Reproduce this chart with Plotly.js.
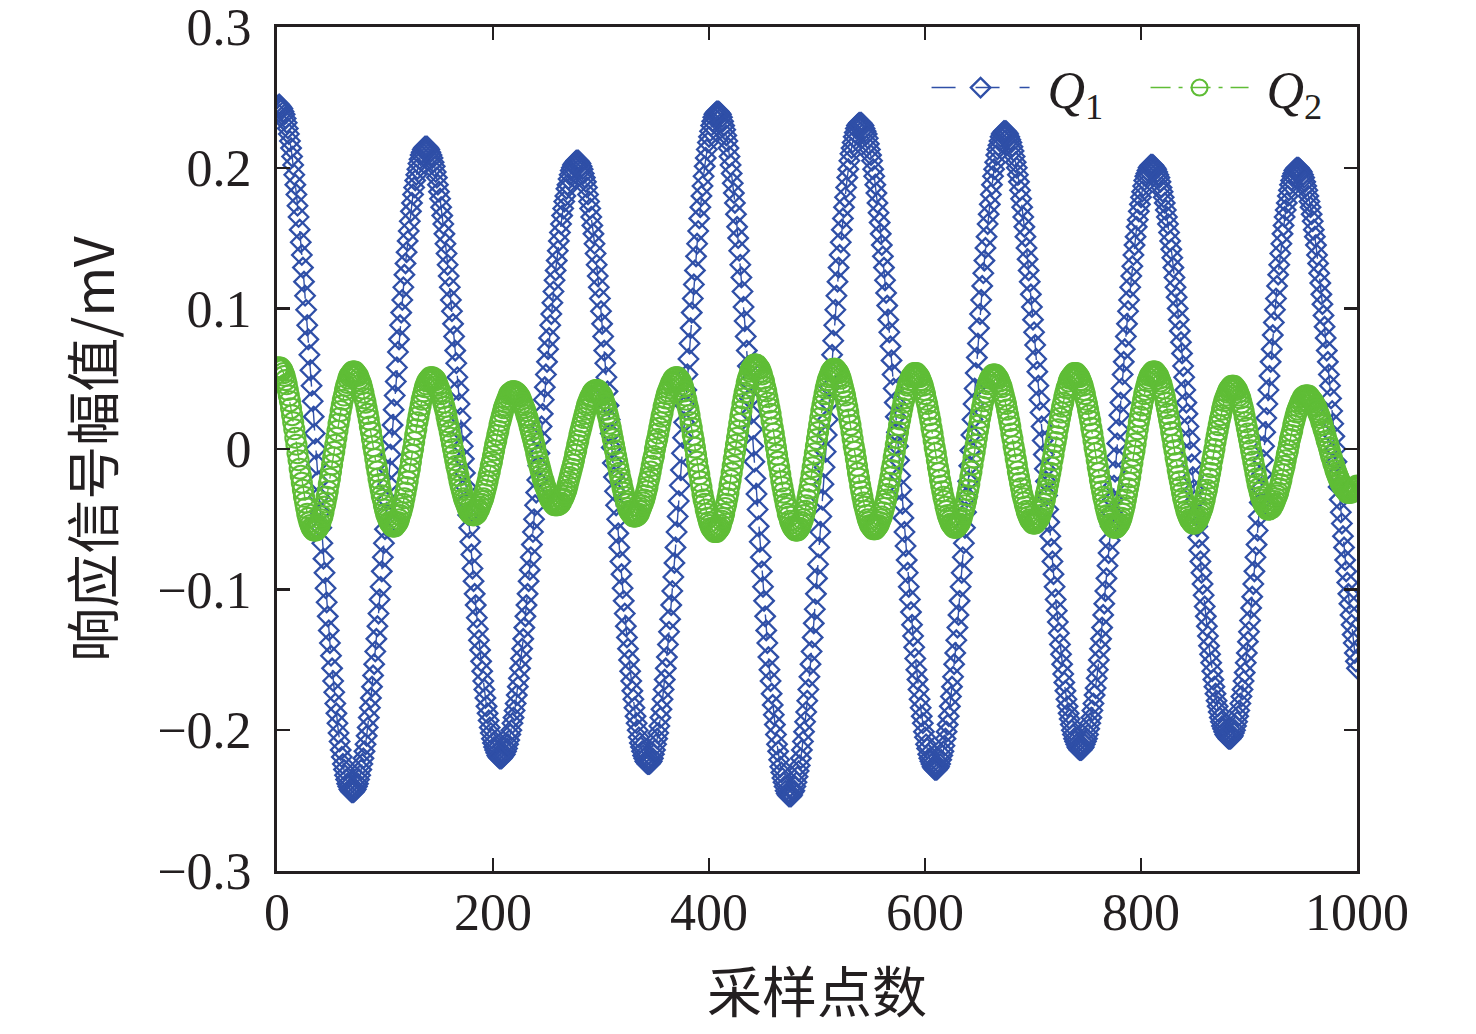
<!DOCTYPE html>
<html>
<head>
<meta charset="utf-8">
<script src="https://cdn.plot.ly/plotly-3.0.1.min.js"></script>
<style>
  html, body { margin: 0; padding: 0; background: #ffffff; }
  #chart { width: 1476px; height: 1034px; }
</style>
</head>
<body>
<div id="chart"></div>
<script>
// Q1 response amplitude (mV) at even samples 0,2,...,1000
const q1AtEvenSamples = [
  .244,.245,.243,.240,.235,.228,.219,.208,.195,.181,.165,.147,.129,.109,.088,.067,.045,.023,.000,-.023,-.045,-.067,-.088,-.109,-.129,-.147,-.165,-.181,-.195,-.208,-.219,-.228,-.235,-.240,-.243,-.244,
  -.243,-.240,-.235,-.228,-.220,-.210,-.198,-.184,-.169,-.153,-.135,-.117,-.098,-.077,-.057,-.036,-.015,.007,.028,.048,.069,.088,.106,.124,.140,.155,.169,.181,.191,.199,.206,.211,.214,.215,
  .214,.211,.207,.201,.193,.183,.172,.160,.146,.131,.115,.098,.080,.061,.042,.022,.002,-.017,-.037,-.056,-.075,-.094,-.111,-.128,-.143,-.158,-.171,-.183,-.193,-.202,-.209,-.214,-.218,-.220,
  -.220,-.218,-.215,-.210,-.203,-.195,-.186,-.175,-.163,-.149,-.135,-.119,-.103,-.086,-.068,-.050,-.031,-.012,.007,.025,.044,.062,.079,.096,.112,.127,.141,.154,.166,.176,.185,.192,.198,.202,.204,.205,
  .204,.201,.196,.190,.181,.171,.159,.146,.131,.115,.098,.080,.061,.041,.021,.001,-.020,-.040,-.060,-.080,-.099,-.117,-.134,-.150,-.165,-.178,-.190,-.200,-.209,-.215,-.220,-.223,-.224,
  -.223,-.220,-.214,-.206,-.197,-.185,-.171,-.156,-.139,-.121,-.101,-.081,-.059,-.037,-.015,.008,.031,.053,.075,.097,.117,.137,.155,.172,.187,.201,.213,.222,.230,.236,.239,.240,
  .239,.236,.230,.223,.214,.202,.189,.175,.158,.141,.122,.101,.080,.059,.036,.014,-.009,-.032,-.055,-.077,-.098,-.119,-.138,-.157,-.174,-.189,-.203,-.215,-.226,-.234,-.240,-.245,-.247,
  -.247,-.244,-.240,-.233,-.225,-.214,-.201,-.187,-.171,-.153,-.134,-.114,-.092,-.070,-.048,-.025,-.002,.021,.044,.067,.088,.109,.129,.147,.164,.179,.193,.205,.214,.222,.228,.231,.232,
  .231,.228,.224,.217,.209,.199,.188,.175,.161,.145,.129,.111,.092,.073,.053,.033,.012,-.008,-.029,-.049,-.069,-.088,-.107,-.125,-.141,-.157,-.171,-.184,-.195,-.205,-.213,-.220,-.224,-.227,-.228,
  -.227,-.224,-.218,-.211,-.201,-.190,-.176,-.162,-.145,-.127,-.108,-.088,-.067,-.045,-.023,-.001,.021,.043,.065,.086,.106,.125,.143,.160,.174,.188,.199,.209,.216,.222,.225,.226,
  .225,.222,.218,.212,.204,.195,.184,.172,.158,.143,.127,.110,.092,.074,.055,.035,.016,-.004,-.023,-.043,-.062,-.080,-.098,-.115,-.131,-.146,-.160,-.172,-.183,-.192,-.200,-.206,-.210,-.213,-.214,
  -.213,-.210,-.206,-.199,-.191,-.181,-.170,-.157,-.142,-.127,-.110,-.092,-.074,-.055,-.036,-.016,.004,.024,.043,.062,.080,.098,.115,.130,.145,.158,.169,.179,.187,.194,.198,.201,.202,
  .201,.199,.195,.190,.183,.175,.165,.154,.142,.129,.115,.100,.084,.068,.051,.033,.016,-.002,-.020,-.037,-.055,-.072,-.088,-.104,-.119,-.133,-.146,-.158,-.169,-.179,-.187,-.194,-.199,-.203,-.205,-.206,
  -.205,-.202,-.197,-.190,-.181,-.171,-.159,-.145,-.130,-.113,-.096,-.077,-.058,-.038,-.018,.002,.022,.042,.062,.081,.099,.116,.131,.146,.159,.170,.180,.188,.194,.198,.200,
  .200,.198,.195,.190,.184,.176,.167,.156,.145,.132,.118,.103,.087,.070,.053,.036,.018,.000,-.018,-.036,-.053,-.070,-.087,-.103,-.118,-.132,-.145,-.156
];

// Q1 response amplitude (mV) at odd samples 1,3,...,999
const q1AtOddSamples = [
  .244,.244,.242,.238,.232,.224,.214,.202,.188,.173,.156,.138,.119,.099,.078,.056,.034,.011,-.011,-.034,-.056,-.078,-.099,-.119,-.138,-.156,-.173,-.188,-.202,-.214,-.224,-.232,-.238,-.242,-.244,
  -.244,-.242,-.238,-.232,-.224,-.215,-.204,-.191,-.177,-.161,-.144,-.126,-.107,-.087,-.067,-.046,-.025,-.004,.017,.038,.058,.078,.097,.115,.132,.148,.162,.175,.186,.195,.203,.209,.213,.215,
  .215,.213,.209,.204,.197,.188,.178,.166,.153,.139,.123,.106,.089,.070,.051,.032,.012,-.007,-.027,-.047,-.066,-.085,-.103,-.120,-.136,-.151,-.165,-.177,-.188,-.198,-.206,-.212,-.216,-.219,
  -.220,-.219,-.217,-.213,-.207,-.200,-.191,-.181,-.169,-.156,-.142,-.127,-.111,-.094,-.077,-.059,-.040,-.022,-.003,.016,.035,.053,.071,.088,.104,.120,.134,.148,.160,.171,.180,.188,.195,.200,.203,.205,
  .205,.203,.199,.193,.186,.176,.165,.153,.139,.123,.107,.089,.070,.051,.031,.011,-.010,-.030,-.050,-.070,-.089,-.108,-.126,-.142,-.158,-.172,-.184,-.195,-.205,-.212,-.218,-.222,-.224,
  -.224,-.222,-.217,-.210,-.202,-.191,-.178,-.164,-.148,-.130,-.111,-.091,-.070,-.048,-.026,-.003,.019,.042,.064,.086,.107,.127,.146,.164,.180,.194,.207,.218,.226,.233,.238,.240,
  .240,.238,.233,.227,.219,.208,.196,.182,.167,.150,.131,.112,.091,.070,.048,.025,.002,-.021,-.043,-.066,-.087,-.108,-.129,-.148,-.165,-.182,-.196,-.210,-.221,-.230,-.237,-.243,-.246,-.247,
  -.246,-.243,-.237,-.229,-.220,-.208,-.194,-.179,-.162,-.144,-.124,-.103,-.082,-.059,-.036,-.013,.010,.033,.055,.077,.099,.119,.138,.156,.172,.186,.199,.210,.218,.225,.230,.232,
  .232,.230,.226,.221,.213,.205,.194,.182,.168,.153,.137,.120,.102,.083,.063,.043,.023,.002,-.019,-.039,-.059,-.079,-.098,-.116,-.133,-.149,-.164,-.178,-.190,-.201,-.210,-.217,-.222,-.226,-.228,
  -.228,-.226,-.221,-.215,-.206,-.196,-.183,-.169,-.153,-.136,-.118,-.098,-.077,-.056,-.034,-.012,.010,.032,.054,.075,.096,.116,.134,.151,.167,.181,.194,.204,.213,.219,.224,.226,
  .226,.224,.220,.215,.208,.200,.190,.178,.165,.151,.135,.119,.101,.083,.064,.045,.026,.006,-.014,-.033,-.052,-.071,-.089,-.107,-.123,-.139,-.153,-.166,-.178,-.188,-.196,-.203,-.208,-.212,-.214,
  -.214,-.212,-.208,-.203,-.195,-.186,-.175,-.163,-.150,-.135,-.118,-.101,-.083,-.065,-.045,-.026,-.006,.014,.033,.053,.071,.089,.106,.123,.138,.151,.163,.174,.183,.191,.196,.200,.202,
  .202,.200,.197,.193,.186,.179,.170,.160,.148,.136,.122,.108,.092,.076,.059,.042,.025,.007,-.011,-.029,-.046,-.063,-.080,-.096,-.112,-.126,-.140,-.152,-.164,-.174,-.183,-.191,-.197,-.201,-.204,-.206,
  -.206,-.204,-.200,-.194,-.186,-.176,-.165,-.152,-.137,-.122,-.105,-.087,-.068,-.048,-.028,-.008,.012,.032,.052,.071,.090,.107,.124,.139,.153,.165,.175,.184,.191,.196,.199,
  .200,.199,.197,.193,.187,.180,.172,.162,.151,.138,.125,.110,.095,.079,.062,.045,.027,.009,-.009,-.027,-.045,-.062,-.079,-.095,-.110,-.125,-.138,-.151
];

// Q2 response amplitude (mV) at even samples 0,2,...,1000
const q2AtEvenSamples = [
  .057,.058,.057,.054,.049,.042,.034,.024,.014,.003,-.008,-.019,-.029,-.038,-.046,-.052,-.056,-.058,
  -.058,-.056,-.053,-.048,-.041,-.034,-.025,-.016,-.006,.003,.013,.022,.031,.038,.045,.050,.053,.055,
  .055,.053,.050,.046,.040,.033,.025,.016,.007,-.002,-.012,-.021,-.029,-.036,-.043,-.048,-.052,-.054,-.055,
  -.054,-.052,-.047,-.042,-.035,-.027,-.018,-.009,.000,.010,.019,.027,.035,.041,.046,.049,.051,
  .051,.050,.047,.043,.039,.033,.027,.019,.012,.004,-.004,-.012,-.019,-.026,-.032,-.037,-.041,-.045,-.046,-.047,
  -.046,-.044,-.041,-.037,-.032,-.026,-.019,-.012,-.005,.003,.010,.017,.023,.029,.033,.037,.040,.041,
  .041,.040,.038,.035,.031,.027,.022,.016,.010,.004,-.003,-.009,-.015,-.021,-.026,-.030,-.034,-.037,-.039,-.040,
  -.040,-.039,-.036,-.033,-.029,-.023,-.017,-.011,-.004,.003,.010,.016,.022,.028,.033,.037,.040,.041,.042,
  .041,.039,.036,.031,.025,.018,.011,.003,-.005,-.013,-.021,-.028,-.034,-.039,-.044,-.046,-.048,
  -.048,-.047,-.044,-.040,-.036,-.030,-.023,-.016,-.008,.000,.007,.015,.023,.030,.036,.041,.045,.048,.050,.051,
  .050,.048,.044,.038,.031,.024,.015,.006,-.004,-.014,-.023,-.032,-.039,-.046,-.052,-.056,-.058,-.059,
  -.058,-.056,-.051,-.046,-.039,-.031,-.022,-.012,-.002,.008,.018,.027,.036,.043,.050,.055,.058,.060,
  .060,.058,.055,.050,.044,.037,.029,.020,.011,.001,-.009,-.018,-.027,-.035,-.042,-.048,-.053,-.056,-.058,
  -.058,-.056,-.052,-.047,-.040,-.032,-.023,-.013,-.003,.007,.017,.027,.035,.043,.049,.053,.056,.057,
  .056,.054,.050,.044,.038,.030,.021,.012,.002,-.007,-.017,-.026,-.034,-.041,-.047,-.052,-.055,-.057,
  -.057,-.055,-.052,-.048,-.042,-.036,-.028,-.020,-.011,-.002,.008,.017,.025,.033,.039,.045,.049,.052,.054,
  .054,.052,.049,.045,.039,.032,.024,.015,.006,-.003,-.013,-.022,-.030,-.037,-.044,-.049,-.053,-.055,-.056,
  -.055,-.053,-.049,-.043,-.037,-.029,-.020,-.011,-.002,.008,.017,.026,.034,.040,.046,.050,.052,.053,
  .052,.050,.046,.041,.035,.028,.020,.011,.002,-.007,-.016,-.024,-.032,-.038,-.044,-.048,-.051,-.053,
  -.053,-.051,-.049,-.044,-.039,-.032,-.025,-.017,-.008,.001,.009,.018,.026,.033,.040,.045,.050,.052,.054,
  .054,.052,.049,.045,.039,.032,.024,.015,.006,-.003,-.013,-.022,-.030,-.037,-.044,-.049,-.053,-.055,-.056,
  -.055,-.053,-.049,-.043,-.036,-.028,-.020,-.010,-.001,.009,.019,.027,.035,.042,.048,.052,.054,.055,
  .054,.052,.048,.043,.037,.029,.021,.012,.003,-.006,-.015,-.023,-.031,-.038,-.044,-.048,-.051,-.053,
  -.053,-.051,-.048,-.044,-.039,-.032,-.025,-.017,-.008,.000,.009,.017,.024,.031,.036,.040,.043,.045,
  .045,.043,.040,.036,.030,.023,.015,.007,-.001,-.009,-.017,-.025,-.031,-.036,-.040,-.042,-.043,
  -.042,-.040,-.037,-.033,-.028,-.022,-.015,-.008,-.001,.007,.013,.020,.026,.030,.034,.037,.038,
  .038,.037,.035,.033,.030,.026,.022,.017,.012,.006,.001,-.005,-.010,-.015,-.019,-.023,-.026,-.028,-.030,-.031,
  -.031,-.030,-.028,-.026
];

// Q2 response amplitude (mV) at odd samples 1,3,...,999
const q2AtOddSamples = [
  .058,.058,.056,.052,.046,.038,.029,.019,.008,-.003,-.014,-.024,-.034,-.042,-.049,-.054,-.057,
  -.058,
  -.057,-.055,-.050,-.045,-.038,-.030,-.021,-.011,-.002,.008,.018,.027,.035,.042,.047,.052,.054,.055,
  .054,.052,.048,.043,.036,.029,.021,.012,.002,-.007,-.016,-.025,-.033,-.040,-.046,-.050,-.053,-.055,
  -.055,-.053,-.050,-.045,-.039,-.031,-.023,-.014,-.004,.005,.014,.023,.031,.038,.044,.048,.050,.051,
  .050,.049,.045,.041,.036,.030,.023,.016,.008,.000,-.008,-.015,-.023,-.029,-.035,-.039,-.043,-.046,-.047,
  -.047,-.046,-.043,-.039,-.035,-.029,-.023,-.016,-.009,-.001,.006,.013,.020,.026,.031,.035,.039,.040,.041,
  .040,.039,.037,.033,.029,.024,.019,.013,.007,.001,-.006,-.012,-.018,-.023,-.028,-.032,-.036,-.038,-.040,-.040,
  -.039,-.038,-.035,-.031,-.026,-.020,-.014,-.008,-.001,.006,.013,.019,.025,.031,.035,.038,.041,.042,
  .042,.040,.038,.033,.028,.022,.015,.007,-.001,-.009,-.017,-.024,-.031,-.037,-.042,-.045,-.047,-.048,
  -.047,-.046,-.042,-.038,-.033,-.027,-.020,-.012,-.005,.004,.011,.019,.026,.033,.039,.043,.047,.050,.051,
  .051,.049,.046,.041,.035,.028,.019,.010,.001,-.009,-.018,-.027,-.036,-.043,-.049,-.054,-.057,-.059,
  -.059,-.057,-.054,-.049,-.042,-.035,-.026,-.017,-.007,.003,.013,.023,.032,.040,.047,.052,.057,.059,.060,
  .059,.057,.053,.048,.041,.033,.025,.015,.006,-.004,-.013,-.023,-.031,-.039,-.046,-.051,-.055,-.057,-.058,
  -.057,-.054,-.050,-.044,-.036,-.028,-.018,-.008,.002,.012,.022,.031,.039,.046,.051,.055,.057,
  .057,.055,.052,.047,.041,.034,.026,.017,.007,-.002,-.012,-.021,-.030,-.038,-.044,-.050,-.054,-.056,-.057,
  -.056,-.054,-.050,-.045,-.039,-.032,-.024,-.015,-.006,.003,.012,.021,.029,.036,.042,.047,.051,.053,.054,
  .053,.051,.047,.042,.035,.028,.020,.011,.001,-.008,-.017,-.026,-.034,-.041,-.047,-.051,-.054,-.056,
  -.056,-.054,-.051,-.046,-.040,-.033,-.025,-.016,-.006,.003,.013,.022,.030,.037,.043,.048,.051,.053,
  .053,.051,.048,.044,.038,.032,.024,.016,.007,-.002,-.011,-.020,-.028,-.035,-.041,-.046,-.050,-.052,-.053,
  -.052,-.050,-.047,-.042,-.036,-.029,-.021,-.013,-.004,.005,.014,.022,.030,.037,.043,.048,.051,.053,.054,
  .053,.051,.047,.042,.035,.028,.020,.011,.001,-.008,-.017,-.026,-.034,-.041,-.047,-.051,-.054,-.056,
  -.056,-.054,-.051,-.046,-.040,-.032,-.024,-.015,-.005,.004,.014,.023,.031,.039,.045,.050,.053,.055,
  .055,.053,.050,.046,.040,.033,.025,.017,.008,-.001,-.010,-.019,-.027,-.035,-.041,-.046,-.050,-.052,-.053,
  -.052,-.050,-.046,-.042,-.036,-.029,-.021,-.013,-.004,.005,.013,.021,.028,.034,.038,.042,.044,.045,
  .044,.042,.038,.033,.027,.019,.011,.003,-.005,-.013,-.021,-.028,-.034,-.038,-.041,-.043,
  -.043,-.042,-.039,-.035,-.031,-.025,-.018,-.012,-.004,.003,.010,.017,.023,.028,.032,.035,.037,.038,
  .038,.036,.034,.031,.028,.024,.019,.014,.009,.004,-.002,-.007,-.012,-.017,-.021,-.024,-.027,-.029,-.031,-.031,
  -.031,-.029,-.027
];

// Axis ticks and labels
const xTickValues = [0, 200, 400, 600, 800, 1000];
const xTickLabels = ['0', '200', '400', '600', '800', '1000'];
const yTickValues = [-0.3, -0.2, -0.1, 0, 0.1, 0.2, 0.3];
const yTickLabels = ['\u22120.3', '\u22120.2', '\u22120.1', '0', '0.1', '0.2', '0.3'];

const seriesNames = ['\u00a0<i>Q</i><sub>1</sub>', '\u00a0<i>Q</i><sub>2</sub>'];
const xAxisTitle = '采样点数';
const yAxisTitle = '响应信号幅值/mV';

// Build (sample, value) pairs for the library
function mergeEvenOdd(even, odd) {
  const xs = [], ys = [];
  for (let i = 0; i < even.length; i++) {
    xs.push(2 * i); ys.push(even[i]);
    if (i < odd.length) { xs.push(2 * i + 1); ys.push(odd[i]); }
  }
  return { x: xs, y: ys };
}
const q1 = mergeEvenOdd(q1AtEvenSamples, q1AtOddSamples);
const q2 = mergeEvenOdd(q2AtEvenSamples, q2AtOddSamples);

const serif = '"Liberation Serif", "Times New Roman", "Noto Sans CJK SC", serif';
const cjk = '"Noto Sans CJK SC", "Liberation Serif", serif';
const ink = '#231f20';
const blue = '#2f4fa7';
const green = '#5fbd36';

const traces = [
  {
    x: q1.x,
    y: q1.y,
    name: seriesNames[0],
    type: 'scatter',
    mode: 'lines+markers',
    line: { color: blue, width: 1.4, dash: '24px,20px' },
    marker: { symbol: 'diamond-open', size: 15, color: blue, line: { color: blue, width: 2.3 } }
  },
  {
    x: q2.x,
    y: q2.y,
    name: seriesNames[1],
    type: 'scatter',
    mode: 'lines+markers',
    line: { color: green, width: 1.4, dash: '20px,8px,4px,8px' },
    marker: { symbol: 'circle-open', size: 20, color: green, line: { color: green, width: 2.1 } }
  }
];

const axisCommon = {
  showline: true,
  linecolor: ink,
  linewidth: 3,
  mirror: 'ticks',
  ticks: 'inside',
  ticklen: 13,
  tickwidth: 2.5,
  tickcolor: ink,
  showgrid: false,
  zeroline: false,
  ticklabeloverflow: 'allow',
  tickfont: { family: serif, size: 52, color: ink },
  automargin: false
};

const layout = {
  width: 1476,
  height: 1034,
  paper_bgcolor: '#ffffff',
  plot_bgcolor: '#ffffff',
  margin: { l: 277, r: 119, t: 27, b: 163, pad: 0 },
  showlegend: true,
  legend: {
    orientation: 'h',
    x: 1.007,
    xanchor: 'right',
    y: 0.928,
    yanchor: 'middle',
    bgcolor: 'rgba(0,0,0,0)',
    borderwidth: 0,
    font: { family: serif, size: 52, color: ink },
    itemwidth: 98,
    entrywidth: 106,
    entrywidthmode: 'pixels',
    itemsizing: 'trace'
  },
  xaxis: Object.assign({}, axisCommon, {
    range: [0, 1000],
    tickmode: 'array',
    tickvals: xTickValues,
    ticktext: xTickLabels,
    ticklabelstandoff: -6,
    title: { text: xAxisTitle, font: { family: cjk, size: 55, color: ink }, standoff: 34 }
  }),
  yaxis: Object.assign({}, axisCommon, {
    range: [-0.3001, 0.3001],
    tickmode: 'array',
    tickvals: yTickValues,
    ticktext: yTickLabels,
    ticklabelstandoff: 12,
    title: { text: yAxisTitle, font: { family: cjk, size: 54, color: ink }, standoff: 26 }
  })
};

Plotly.newPlot('chart', traces, layout, { displayModeBar: false, staticPlot: true });
</script>
</body>
</html>
